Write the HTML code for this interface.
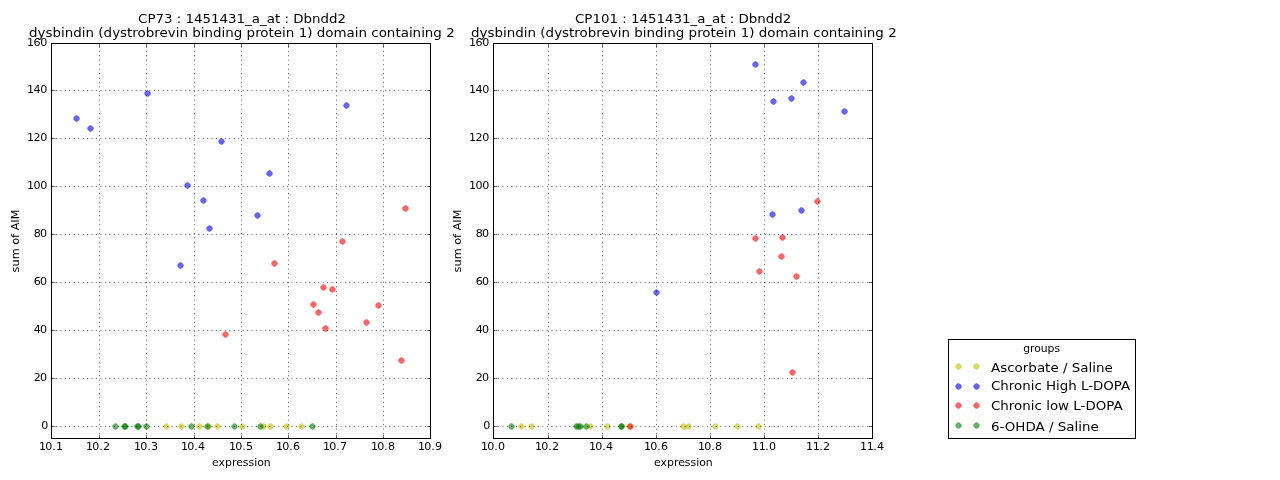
<!DOCTYPE html>
<html lang="en"><head><meta charset="utf-8"><title>CP73 / CP101 : 1451431_a_at : Dbndd2</title>
<style>html,body{margin:0;padding:0;background:#fff;}body{width:1280px;height:480px;overflow:hidden;}svg{display:block;}text{font-family:'DejaVu Sans','Liberation Sans',sans-serif;fill:#000;}.title{font-size:13.33px;}.xtick{font-size:11.11px;}.ytick{font-size:11.11px;}.xlabel{font-size:11.11px;}.ylabel{font-size:11.11px;}.leg{font-size:13.33px;}.legt{font-size:11.11px;}</style></head><body>
<svg width="1280" height="480" viewBox="0 0 1280 480">
<defs><path id="m" d="M2.95 0L2.88 0.38L2.67 0.89L2.34 1.41L1.91 1.91L1.41 2.34L0.89 2.67L0.38 2.88L0 2.95L-0.38 2.88L-0.89 2.67L-1.41 2.34L-1.91 1.91L-2.34 1.41L-2.67 0.89L-2.88 0.38L-2.95 0L-2.88 -0.38L-2.67 -0.89L-2.34 -1.41L-1.91 -1.91L-1.41 -2.34L-0.89 -2.67L-0.38 -2.88L0 -2.95L0.38 -2.88L0.89 -2.67L1.41 -2.34L1.91 -1.91L2.34 -1.41L2.67 -0.89L2.88 -0.38Z" stroke-linejoin="round"/></defs>
<rect width="1280" height="480" fill="#fff"/>
<g class="axes" id="plot-cp73">
<g class="points ascorbate-saline" fill="#bfbf00" stroke="#bfbf00" fill-opacity="0.6" stroke-opacity="0.6" stroke-width="0.556">
<use href="#m" x="166.5" y="426.5"/>
<use href="#m" x="181.5" y="426.5"/>
<use href="#m" x="199.5" y="426.5"/>
<use href="#m" x="208.5" y="426.5"/>
<use href="#m" x="217.5" y="426.5"/>
<use href="#m" x="242.5" y="426.5"/>
<use href="#m" x="263.5" y="426.5"/>
<use href="#m" x="270.5" y="426.5"/>
<use href="#m" x="286.5" y="426.5"/>
<use href="#m" x="301.5" y="426.5"/>
</g>
<g class="points chronic-high-ldopa" fill="#0000ff" stroke="#0000ff" fill-opacity="0.6" stroke-opacity="0.6" stroke-width="0.556">
<use href="#m" x="76.5" y="118.5"/>
<use href="#m" x="90.5" y="128.5"/>
<use href="#m" x="147.5" y="93.5"/>
<use href="#m" x="221.5" y="141.5"/>
<use href="#m" x="269.5" y="173.5"/>
<use href="#m" x="187.5" y="185.5"/>
<use href="#m" x="203.5" y="200.5"/>
<use href="#m" x="209.5" y="228.5"/>
<use href="#m" x="257.5" y="215.5"/>
<use href="#m" x="180.5" y="265.5"/>
<use href="#m" x="346.5" y="105.5"/>
</g>
<g class="points chronic-low-ldopa" fill="#ff0000" stroke="#ff0000" fill-opacity="0.6" stroke-opacity="0.6" stroke-width="0.556">
<use href="#m" x="405.5" y="208.5"/>
<use href="#m" x="342.5" y="241.5"/>
<use href="#m" x="274.5" y="263.5"/>
<use href="#m" x="323.5" y="287.5"/>
<use href="#m" x="332.5" y="289.5"/>
<use href="#m" x="313.5" y="304.5"/>
<use href="#m" x="318.5" y="312.5"/>
<use href="#m" x="325.5" y="328.5"/>
<use href="#m" x="378.5" y="305.5"/>
<use href="#m" x="366.5" y="322.5"/>
<use href="#m" x="225.5" y="334.5"/>
<use href="#m" x="401.5" y="360.5"/>
</g>
<g class="points ohda-saline" fill="#008000" stroke="#008000" fill-opacity="0.6" stroke-opacity="0.6" stroke-width="0.556">
<use href="#m" x="115.5" y="426.5"/>
<use href="#m" x="124.5" y="426.5"/>
<use href="#m" x="125.5" y="426.5"/>
<use href="#m" x="137.5" y="426.5"/>
<use href="#m" x="138.5" y="426.5"/>
<use href="#m" x="146.5" y="426.5"/>
<use href="#m" x="191.5" y="426.5"/>
<use href="#m" x="207.5" y="426.5"/>
<use href="#m" x="234.5" y="426.5"/>
<use href="#m" x="260.5" y="426.5"/>
<use href="#m" x="312.5" y="426.5"/>
</g>
<g class="grid" stroke="#000" stroke-width="0.556" stroke-dasharray="1.111 3.333" fill="none">
<path d="M99.5 438.5V43.5"/>
<path d="M146.5 438.5V43.5"/>
<path d="M194.5 438.5V43.5"/>
<path d="M241.5 438.5V43.5"/>
<path d="M288.5 438.5V43.5"/>
<path d="M336.5 438.5V43.5"/>
<path d="M383.5 438.5V43.5"/>
<path d="M51.5 426.5H430.5"/>
<path d="M51.5 378.5H430.5"/>
<path d="M51.5 330.5H430.5"/>
<path d="M51.5 282.5H430.5"/>
<path d="M51.5 234.5H430.5"/>
<path d="M51.5 186.5H430.5"/>
<path d="M51.5 138.5H430.5"/>
<path d="M51.5 90.5H430.5"/>
</g>
<g class="ticks" stroke="#000" stroke-width="0.556" fill="none">
<path d="M99.5 438.5v-4M99.5 43.5v4"/>
<path d="M146.5 438.5v-4M146.5 43.5v4"/>
<path d="M194.5 438.5v-4M194.5 43.5v4"/>
<path d="M241.5 438.5v-4M241.5 43.5v4"/>
<path d="M288.5 438.5v-4M288.5 43.5v4"/>
<path d="M336.5 438.5v-4M336.5 43.5v4"/>
<path d="M383.5 438.5v-4M383.5 43.5v4"/>
<path d="M51.5 426.5h4M430.5 426.5h-4"/>
<path d="M51.5 378.5h4M430.5 378.5h-4"/>
<path d="M51.5 330.5h4M430.5 330.5h-4"/>
<path d="M51.5 282.5h4M430.5 282.5h-4"/>
<path d="M51.5 234.5h4M430.5 234.5h-4"/>
<path d="M51.5 186.5h4M430.5 186.5h-4"/>
<path d="M51.5 138.5h4M430.5 138.5h-4"/>
<path d="M51.5 90.5h4M430.5 90.5h-4"/>
</g>
<rect x="51.5" y="43.5" width="379.0" height="395.0" fill="none" stroke="#000" stroke-width="1" shape-rendering="crispEdges"/>
<text class="xtick" x="39 45.2 52.2 56" y="449.7">10.1</text>
<text class="xtick" x="86 92.2 99.2 103" y="449.7">10.2</text>
<text class="xtick" x="134 140.2 147.2 151" y="449.7">10.3</text>
<text class="xtick" x="181 187.2 194.2 198" y="449.7">10.4</text>
<text class="xtick" x="229 235.2 242.2 246" y="449.7">10.5</text>
<text class="xtick" x="276 282.2 289.2 293" y="449.7">10.6</text>
<text class="xtick" x="323 329.2 336.2 340" y="449.7">10.7</text>
<text class="xtick" x="371 377.2 384.2 388" y="449.7">10.8</text>
<text class="xtick" x="418 424.2 431.2 435" y="449.7">10.9</text>
<text class="ytick" x="41.23" y="429.1">0</text>
<text class="ytick" x="33.7 40.05" y="381.1">20</text>
<text class="ytick" x="33.7 40.05" y="333.1">40</text>
<text class="ytick" x="33.7 40.05" y="285.1">60</text>
<text class="ytick" x="33.7 40.05" y="237.1">80</text>
<text class="ytick" x="26.9 33.45 40.33" y="189.1">100</text>
<text class="ytick" x="26.9 33.45 40.33" y="141.1">120</text>
<text class="ytick" x="26.9 33.45 40.33" y="93.1">140</text>
<text class="ytick" x="26.9 33.45 40.33" y="46.1">160</text>
<text class="xlabel" transform="translate(241.4 466.3) scale(0.98 1.0)" text-anchor="middle">expression</text>
<text class="ylabel" transform="translate(19.3 241) rotate(-90) scale(1.015 1.0)" text-anchor="middle">sum of AIM</text>
<text class="title" transform="translate(242 22.6) scale(1.004 0.915)" text-anchor="middle">CP73 : 1451431_a_at : Dbndd2</text>
<text class="title" transform="translate(241.9 37.1) scale(1.008 0.915)" text-anchor="middle">dysbindin (dystrobrevin binding protein 1) domain containing 2</text>
</g>
<g class="axes" id="plot-cp101">
<g class="points ascorbate-saline" fill="#bfbf00" stroke="#bfbf00" fill-opacity="0.6" stroke-opacity="0.6" stroke-width="0.556">
<use href="#m" x="521.5" y="426.5"/>
<use href="#m" x="531.5" y="426.5"/>
<use href="#m" x="590.5" y="426.5"/>
<use href="#m" x="607.5" y="426.5"/>
<use href="#m" x="629.5" y="426.5"/>
<use href="#m" x="683.5" y="426.5"/>
<use href="#m" x="688.5" y="426.5"/>
<use href="#m" x="715.5" y="426.5"/>
<use href="#m" x="737.5" y="426.5"/>
<use href="#m" x="758.5" y="426.5"/>
</g>
<g class="points chronic-high-ldopa" fill="#0000ff" stroke="#0000ff" fill-opacity="0.6" stroke-opacity="0.6" stroke-width="0.556">
<use href="#m" x="755.5" y="64.5"/>
<use href="#m" x="803.5" y="82.5"/>
<use href="#m" x="773.5" y="101.5"/>
<use href="#m" x="791.5" y="98.5"/>
<use href="#m" x="844.5" y="111.5"/>
<use href="#m" x="772.5" y="214.5"/>
<use href="#m" x="801.5" y="210.5"/>
<use href="#m" x="656.5" y="292.5"/>
</g>
<g class="points chronic-low-ldopa" fill="#ff0000" stroke="#ff0000" fill-opacity="0.6" stroke-opacity="0.6" stroke-width="0.556">
<use href="#m" x="817.5" y="201.5"/>
<use href="#m" x="755.5" y="238.5"/>
<use href="#m" x="782.5" y="237.5"/>
<use href="#m" x="781.5" y="256.5"/>
<use href="#m" x="759.5" y="271.5"/>
<use href="#m" x="796.5" y="276.5"/>
<use href="#m" x="792.5" y="372.5"/>
<use href="#m" x="630.5" y="426.5"/>
</g>
<g class="points ohda-saline" fill="#008000" stroke="#008000" fill-opacity="0.6" stroke-opacity="0.6" stroke-width="0.556">
<use href="#m" x="511.5" y="426.5"/>
<use href="#m" x="576.5" y="426.5"/>
<use href="#m" x="578.5" y="426.5"/>
<use href="#m" x="580.5" y="426.5"/>
<use href="#m" x="586.5" y="426.5"/>
<use href="#m" x="621.5" y="426.5"/>
<use href="#m" x="621.5" y="426.5"/>
</g>
<g class="grid" stroke="#000" stroke-width="0.556" stroke-dasharray="1.111 3.333" fill="none">
<path d="M548.5 438.5V43.5"/>
<path d="M602.5 438.5V43.5"/>
<path d="M656.5 438.5V43.5"/>
<path d="M710.5 438.5V43.5"/>
<path d="M764.5 438.5V43.5"/>
<path d="M818.5 438.5V43.5"/>
<path d="M493.5 426.5H872.5"/>
<path d="M493.5 378.5H872.5"/>
<path d="M493.5 330.5H872.5"/>
<path d="M493.5 282.5H872.5"/>
<path d="M493.5 234.5H872.5"/>
<path d="M493.5 186.5H872.5"/>
<path d="M493.5 138.5H872.5"/>
<path d="M493.5 90.5H872.5"/>
</g>
<g class="ticks" stroke="#000" stroke-width="0.556" fill="none">
<path d="M548.5 438.5v-4M548.5 43.5v4"/>
<path d="M602.5 438.5v-4M602.5 43.5v4"/>
<path d="M656.5 438.5v-4M656.5 43.5v4"/>
<path d="M710.5 438.5v-4M710.5 43.5v4"/>
<path d="M764.5 438.5v-4M764.5 43.5v4"/>
<path d="M818.5 438.5v-4M818.5 43.5v4"/>
<path d="M493.5 426.5h4M872.5 426.5h-4"/>
<path d="M493.5 378.5h4M872.5 378.5h-4"/>
<path d="M493.5 330.5h4M872.5 330.5h-4"/>
<path d="M493.5 282.5h4M872.5 282.5h-4"/>
<path d="M493.5 234.5h4M872.5 234.5h-4"/>
<path d="M493.5 186.5h4M872.5 186.5h-4"/>
<path d="M493.5 138.5h4M872.5 138.5h-4"/>
<path d="M493.5 90.5h4M872.5 90.5h-4"/>
</g>
<rect x="493.5" y="43.5" width="379.0" height="395.0" fill="none" stroke="#000" stroke-width="1" shape-rendering="crispEdges"/>
<text class="xtick" x="481 487.2 494.2 498" y="449.7">10.0</text>
<text class="xtick" x="535 541.2 548.2 552" y="449.7">10.2</text>
<text class="xtick" x="589 595.2 602.2 606" y="449.7">10.4</text>
<text class="xtick" x="644 650.2 657.2 661" y="449.7">10.6</text>
<text class="xtick" x="698 704.2 711.2 715" y="449.7">10.8</text>
<text class="xtick" x="752.1 758.7 765.3 769.1" y="449.7">11.0</text>
<text class="xtick" x="806.1 812.7 819.3 823.1" y="449.7">11.2</text>
<text class="xtick" x="860.1 866.7 873.3 877.1" y="449.7">11.4</text>
<text class="ytick" x="483.23" y="429.1">0</text>
<text class="ytick" x="475.7 482.05" y="381.1">20</text>
<text class="ytick" x="475.7 482.05" y="333.1">40</text>
<text class="ytick" x="475.7 482.05" y="285.1">60</text>
<text class="ytick" x="475.7 482.05" y="237.1">80</text>
<text class="ytick" x="468.9 475.45 482.33" y="189.1">100</text>
<text class="ytick" x="468.9 475.45 482.33" y="141.1">120</text>
<text class="ytick" x="468.9 475.45 482.33" y="93.1">140</text>
<text class="ytick" x="468.9 475.45 482.33" y="46.1">160</text>
<text class="xlabel" transform="translate(683.4 466.3) scale(0.98 1.0)" text-anchor="middle">expression</text>
<text class="ylabel" transform="translate(461.3 241) rotate(-90) scale(1.015 1.0)" text-anchor="middle">sum of AIM</text>
<text class="title" transform="translate(683.18 22.6) scale(1.004 0.915)" text-anchor="middle">CP101 : 1451431_a_at : Dbndd2</text>
<text class="title" transform="translate(683.9 37.1) scale(1.008 0.915)" text-anchor="middle">dysbindin (dystrobrevin binding protein 1) domain containing 2</text>
</g>
<g id="legend">
<rect x="948.5" y="339.5" width="187" height="99" fill="#fff" stroke="#000" stroke-width="1" shape-rendering="crispEdges"/>
<text class="legt" transform="translate(1041.6 351.5) scale(0.972 1.0)" text-anchor="middle">groups</text>
<g fill="#bfbf00" stroke="#bfbf00" fill-opacity="0.6" stroke-opacity="0.6" stroke-width="0.556"><use href="#m" x="958.5" y="366.5"/><use href="#m" x="976.5" y="366.5"/></g>
<text class="leg" transform="translate(991 371.6) scale(1.01 0.915)" text-anchor="start">Ascorbate / Saline</text>
<g fill="#0000ff" stroke="#0000ff" fill-opacity="0.6" stroke-opacity="0.6" stroke-width="0.556"><use href="#m" x="958.5" y="386.5"/><use href="#m" x="976.5" y="386.5"/></g>
<text class="leg" transform="translate(991 389.9) scale(1.004 0.915)" text-anchor="start">Chronic High L-DOPA</text>
<g fill="#ff0000" stroke="#ff0000" fill-opacity="0.6" stroke-opacity="0.6" stroke-width="0.556"><use href="#m" x="958.5" y="405.5"/><use href="#m" x="976.5" y="405.5"/></g>
<text class="leg" transform="translate(991 409.9) scale(1.0075 0.915)" text-anchor="start">Chronic low L-DOPA</text>
<g fill="#008000" stroke="#008000" fill-opacity="0.6" stroke-opacity="0.6" stroke-width="0.556"><use href="#m" x="958.5" y="425.5"/><use href="#m" x="976.5" y="425.5"/></g>
<text class="leg" transform="translate(991 431.4) scale(1.008 0.915)" text-anchor="start">6-OHDA / Saline</text>
</g>
</svg></body></html>
